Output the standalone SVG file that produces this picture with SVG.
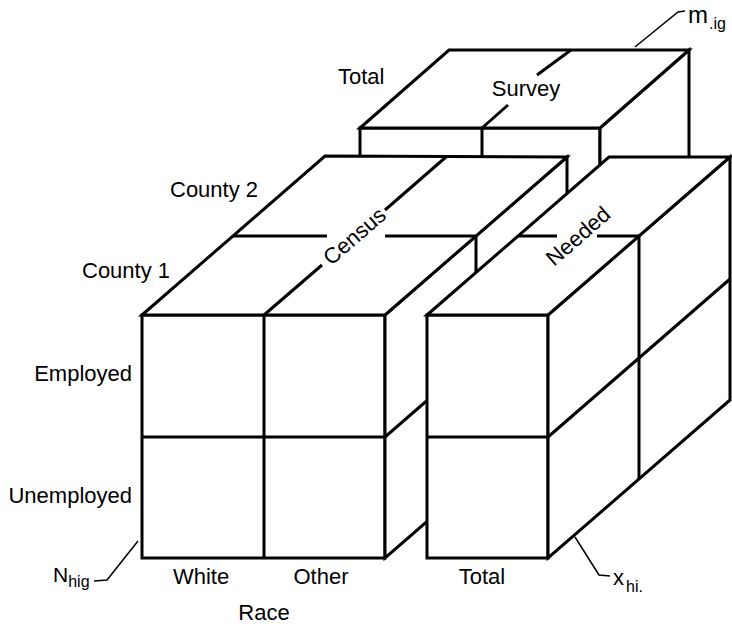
<svg xmlns="http://www.w3.org/2000/svg" width="732" height="626" viewBox="0 0 732 626">
<style>
.f{fill:#fff;stroke:#000;stroke-width:3;stroke-linejoin:miter}
.l{fill:none;stroke:#000;stroke-width:3}
.c{fill:none;stroke:#000;stroke-width:1.5}
text{font-family:"Liberation Sans",Arial,Helvetica,sans-serif;font-size:22px;fill:#000}
.s{font-size:16px}
</style>
<rect width="732" height="626" fill="#fff"/>
<g id="survey">
<rect class="f" x="360" y="128" width="240" height="72"/>
<polygon class="f" points="600,128 689,50 689,170 600,200"/>
<polygon class="f" points="360,128 449,50 689,50 600,128"/>
<line class="l" x1="482" y1="128" x2="482" y2="200"/>
<line class="l" x1="482" y1="128" x2="508" y2="105"/>
<line class="l" x1="537" y1="75" x2="571" y2="50"/>
<text x="526" y="96" text-anchor="middle">Survey</text>
</g>
<g id="census">
<rect class="f" x="142" y="315" width="243" height="243"/>
<polygon class="f" points="385,315 567,157 567,400 385,558"/>
<polygon class="f" points="142,315 325,156 567,157 385,315"/>
<line class="l" x1="264" y1="315" x2="264" y2="558"/>
<line class="l" x1="142" y1="437" x2="385" y2="437"/>
<line class="l" x1="385" y1="437" x2="567" y2="279"/>
<line class="l" x1="476" y1="236" x2="476" y2="479"/>
<line class="l" x1="264" y1="315" x2="322" y2="265"/>
<line class="l" x1="385" y1="210" x2="446" y2="157"/>
<line class="l" x1="233" y1="236" x2="327" y2="236"/>
<line class="l" x1="385" y1="236" x2="476" y2="236"/>
<text transform="translate(359.5,241.8) rotate(-41)" text-anchor="middle">Census</text>
</g>
<g id="needed">
<rect class="f" x="427" y="315" width="121" height="243"/>
<polygon class="f" points="548,315 730,157 730,400 548,558"/>
<polygon class="f" points="427,315 609,157 730,157 548,315"/>
<line class="l" x1="427" y1="437" x2="548" y2="437"/>
<line class="l" x1="548" y1="437" x2="730" y2="279"/>
<line class="l" x1="639" y1="236" x2="639" y2="479"/>
<line class="l" x1="518" y1="236" x2="557" y2="236"/>
<line class="l" x1="597" y1="236" x2="639" y2="236"/>
<text transform="translate(583,241.8) rotate(-41)" text-anchor="middle">Needed</text>
</g>
<g id="labels">
<text x="338" y="84">Total</text>
<text x="170" y="197">County 2</text>
<text x="82" y="278">County 1</text>
<text x="132" y="381" text-anchor="end">Employed</text>
<text x="132" y="503" text-anchor="end">Unemployed</text>
<text x="201" y="584" text-anchor="middle">White</text>
<text x="321" y="584" text-anchor="middle">Other</text>
<text x="264" y="620" text-anchor="middle">Race</text>
<text x="482" y="584" text-anchor="middle">Total</text>
<text x="53" y="582" style="font-size:21px">N<tspan class="s" dy="5">hig</tspan></text>
<text x="613" y="585">x<tspan class="s" dx="2" dy="7">hi.</tspan></text>
<text x="688" y="23" style="font-size:24px">m<tspan class="s" dx="1" dy="6">.ig</tspan></text>
</g>
<g id="connectors">
<path class="c" d="M94,581 L107,580 L138,541"/>
<path class="c" d="M575,537 L599,575 L610,576"/>
<path class="c" d="M635,47 L678,12 L685,11"/>
</g>
</svg>
